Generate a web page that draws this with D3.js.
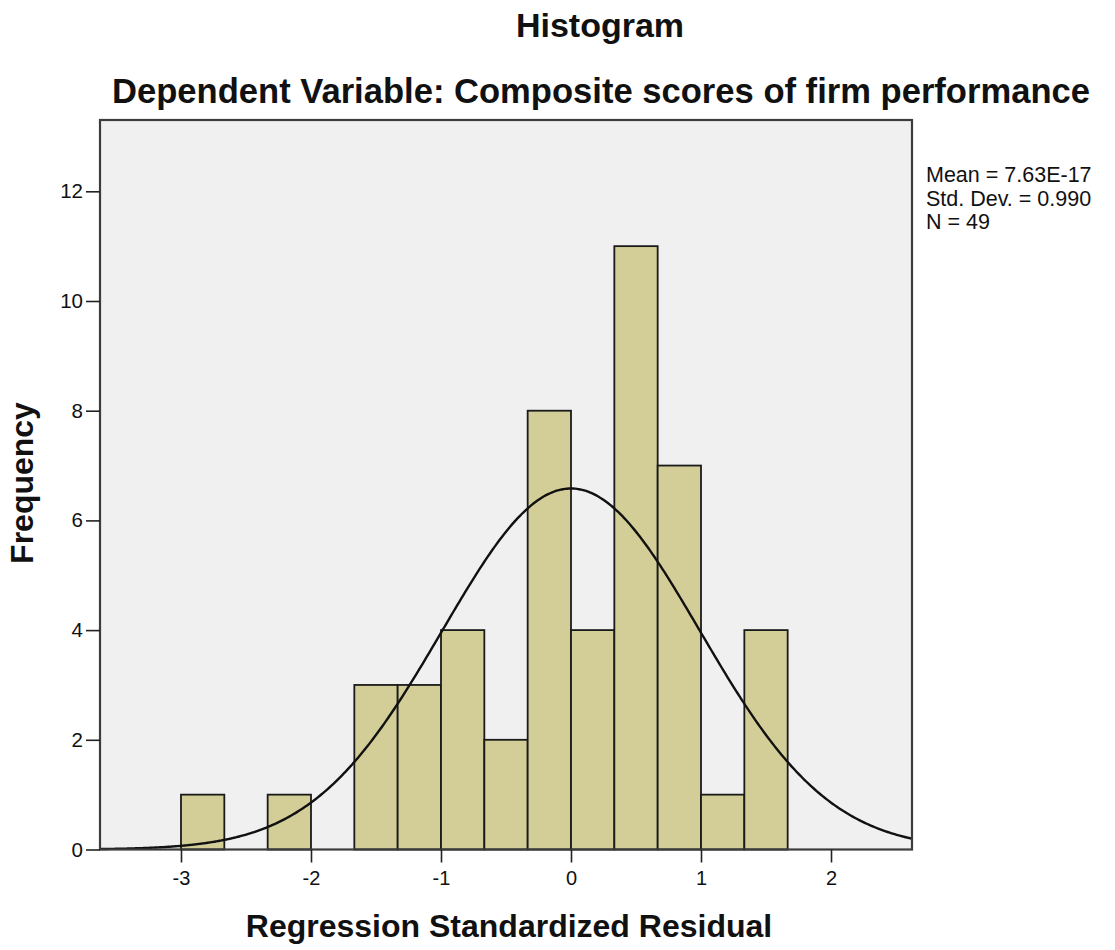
<!DOCTYPE html>
<html>
<head>
<meta charset="utf-8">
<script src="https://cdn.jsdelivr.net/npm/d3@7"></script>
<style>
  html, body { margin: 0; padding: 0; background: #ffffff; }
  svg { display: block; font-family: "Liberation Sans", Arial, sans-serif; }
</style>
</head>
<body>
<svg id="chart" width="1115" height="950"></svg>
<script>
// Histogram bins of regression standardized residuals (bin width 1/3)
const binStart = -3;
const binWidth = 1 / 3;
const frequencies = [1, 0, 1, 0, 3, 3, 4, 2, 8, 4, 11, 7, 1, 4];

// Summary statistics shown beside the plot
const statMean = 7.63e-17;
const statSD = 0.990;
const statN = 49;
const statLabels = ["Mean = 7.63E-17", "Std. Dev. = 0.990", "N = 49"];

const xTicks = [-3, -2, -1, 0, 1, 2];
const yTicks = [0, 2, 4, 6, 8, 10, 12];

const titleText = "Histogram";
const subtitleText = "Dependent Variable: Composite scores of firm performance";
const xLabel = "Regression Standardized Residual";
const yLabel = "Frequency";

const plot = { left: 100, right: 912, top: 120, bottom: 849.5 };

const svg = d3.select("#chart");

const x = d3.scaleLinear().domain([-3.623, 2.623]).range([plot.left, plot.right]);
const y = d3.scaleLinear().domain([0, 13.3]).range([plot.bottom, plot.top]);

// Plot background
svg.append("rect")
  .attr("x", plot.left).attr("y", plot.top)
  .attr("width", plot.right - plot.left).attr("height", plot.bottom - plot.top)
  .attr("fill", "#f0f0f0");

// Bars
const bins = frequencies.map((f, i) => ({
  x0: binStart + i * binWidth,
  x1: binStart + (i + 1) * binWidth,
  f
})).filter(d => d.f > 0);

svg.append("g").selectAll("rect").data(bins).join("rect")
  .attr("x", d => x(d.x0))
  .attr("y", d => y(d.f))
  .attr("width", d => x(d.x1) - x(d.x0))
  .attr("height", d => y(0) - y(d.f))
  .attr("fill", "#d3ce97")
  .attr("stroke", "#1a1a1a")
  .attr("stroke-width", 1.8);

// Normal curve from the reported mean, SD and N
const scaleFactor = statN * binWidth;
const pdf = v => scaleFactor / (statSD * Math.sqrt(2 * Math.PI)) *
  Math.exp(-0.5 * Math.pow((v - statMean) / statSD, 2));
const [dx0, dx1] = x.domain();
const curvePts = d3.range(0, 401).map(i => {
  const v = dx0 + (dx1 - dx0) * i / 400;
  return [v, pdf(v)];
});
svg.append("path")
  .datum(curvePts)
  .attr("fill", "none")
  .attr("stroke", "#111")
  .attr("stroke-width", 2.4)
  .attr("d", d3.line().x(d => x(d[0])).y(d => y(d[1])).curve(d3.curveBasis));

// Plot frame
svg.append("rect")
  .attr("x", plot.left).attr("y", plot.top)
  .attr("width", plot.right - plot.left).attr("height", plot.bottom - plot.top)
  .attr("fill", "none")
  .attr("stroke", "#3c3c3c")
  .attr("stroke-width", 2.2);

// Axes (plain hyphen for negative numbers)
const plainFormat = d => String(d);
const xAxis = d3.axisBottom(x).tickValues(xTicks).tickSize(13).tickPadding(8)
  .tickFormat(plainFormat);
const gx = svg.append("g").attr("transform", `translate(0,${plot.bottom})`).call(xAxis);
gx.select(".domain").remove();
gx.selectAll(".tick line").attr("stroke", "#222").attr("stroke-width", 1.6);
gx.selectAll(".tick text").attr("font-size", 20).attr("fill", "#111")
  .attr("font-family", "'Liberation Sans', Arial, sans-serif");

const yAxis = d3.axisLeft(y).tickValues(yTicks).tickSize(14).tickPadding(3)
  .tickFormat(plainFormat);
const gy = svg.append("g").attr("transform", `translate(${plot.left},0)`).call(yAxis);
gy.select(".domain").remove();
gy.selectAll(".tick line").attr("stroke", "#222").attr("stroke-width", 1.6);
gy.selectAll(".tick text").attr("font-size", 20.5).attr("fill", "#111")
  .attr("font-family", "'Liberation Sans', Arial, sans-serif");

// Titles
svg.append("text")
  .attr("x", 600).attr("y", 37)
  .attr("text-anchor", "middle")
  .attr("font-size", 34).attr("font-weight", "bold").attr("fill", "#111")
  .text(titleText);

svg.append("text")
  .attr("x", 601).attr("y", 103)
  .attr("text-anchor", "middle")
  .attr("font-size", 34.5).attr("font-weight", "bold").attr("fill", "#111")
  .attr("textLength", 978).attr("lengthAdjust", "spacingAndGlyphs")
  .text(subtitleText);

// Axis titles
svg.append("text")
  .attr("x", 509).attr("y", 937)
  .attr("text-anchor", "middle")
  .attr("font-size", 32).attr("font-weight", "bold").attr("fill", "#111")
  .text(xLabel);

svg.append("text")
  .attr("transform", "translate(33,483) rotate(-90)")
  .attr("text-anchor", "middle")
  .attr("font-size", 32).attr("font-weight", "bold").attr("fill", "#111")
  .text(yLabel);

// Statistics block
svg.append("g").selectAll("text").data(statLabels).join("text")
  .attr("x", 926)
  .attr("y", (d, i) => 182 + i * 23.5)
  .attr("font-size", 21.5).attr("fill", "#111")
  .text(d => d);
</script>
</body>
</html>
